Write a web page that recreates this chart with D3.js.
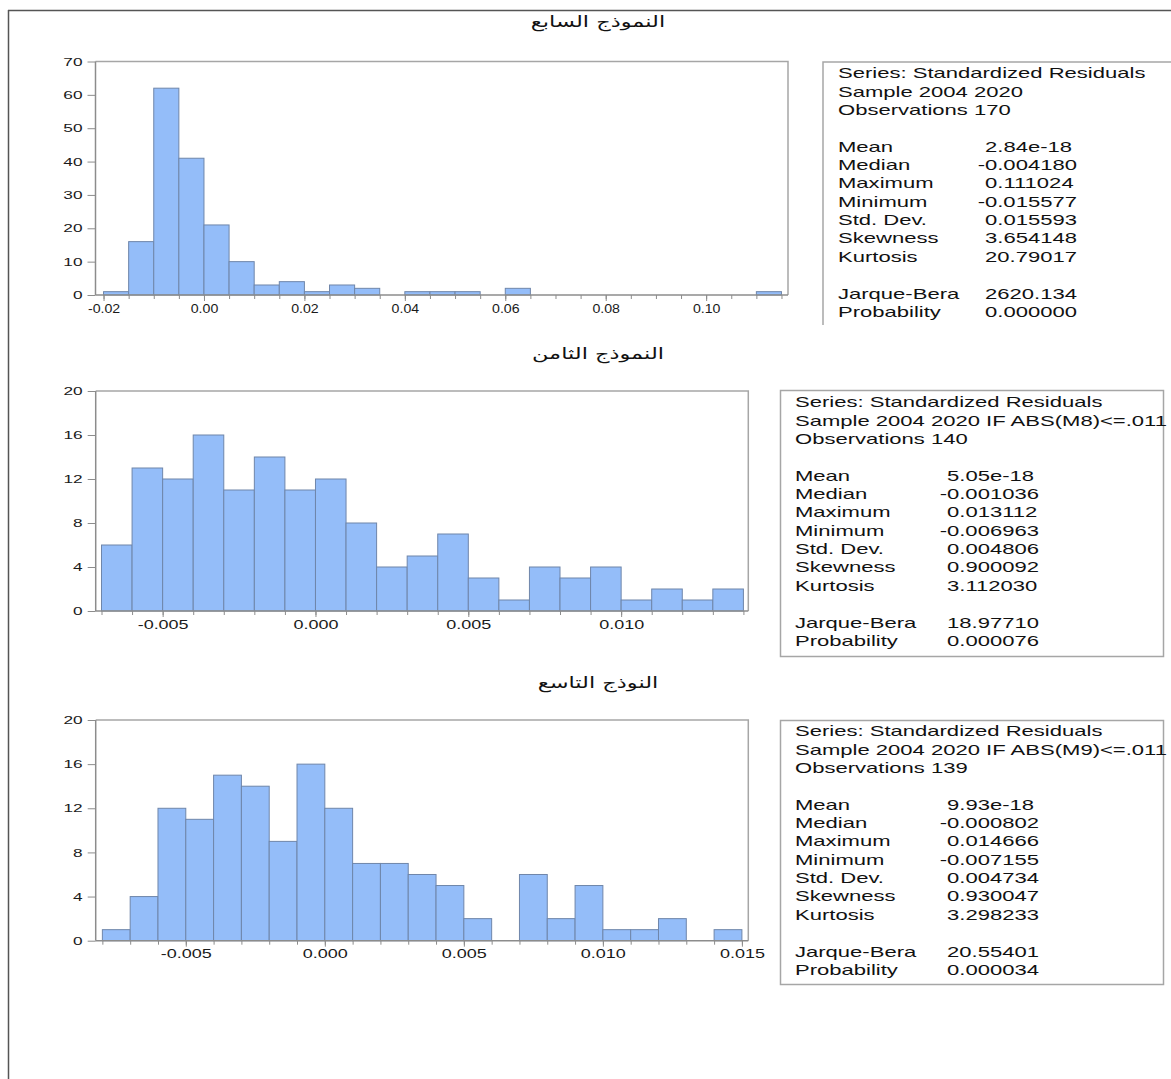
<!DOCTYPE html>
<html><head><meta charset="utf-8">
<script src="https://cdn.jsdelivr.net/npm/d3@7"></script>
<style>
html,body{margin:0;padding:0;background:#fff;}
svg{display:block;}
</style></head><body>
<svg id="chart" width="1171" height="1079"></svg>
<script>
// Model titles
const titles = ["النموذج السابع", "النموذج الثامن", "النوذج التاسع"];

// Residual histograms: first bin edge, bin width, counts per bin
const binStart7 = -0.02, binWidth7 = 0.005;
const counts7 = [1,16,62,41,21,10,3,4,1,3,2,0,1,1,1,0,2,0,0,0,0,0,0,0,0,0,1];
const binStart8 = -0.007, binWidth8 = 0.001;
const counts8 = [6,13,12,16,11,14,11,12,8,4,5,7,3,1,4,3,4,1,2,1,2];
const binStart9 = -0.008, binWidth9 = 0.001;
const counts9 = [1,4,12,11,15,14,9,16,12,7,7,6,5,2,0,6,2,5,1,1,2,0,1];

// Axis ticks
const xTicks7 = [-0.02, 0, 0.02, 0.04, 0.06, 0.08, 0.10];
const yTicks7 = [0, 10, 20, 30, 40, 50, 60, 70];
const xTicks8 = [-0.005, 0, 0.005, 0.010];
const xTicks9 = [-0.005, 0, 0.005, 0.010, 0.015];
const yTicks89 = [0, 4, 8, 12, 16, 20];

// Descriptive statistics
const statNames = ["Mean", "Median", "Maximum", "Minimum", "Std. Dev.", "Skewness", "Kurtosis"];
const testNames = ["Jarque-Bera", "Probability"];
const header7 = ["Series: Standardized Residuals", "Sample 2004 2020", "Observations 170"];
const stats7 = ["2.84e-18", "-0.004180", "0.111024", "-0.015577", "0.015593", "3.654148", "20.79017"];
const tests7 = ["2620.134", "0.000000"];
const header8 = ["Series: Standardized Residuals", "Sample 2004 2020 IF ABS(M8)<=.011", "Observations 140"];
const stats8 = ["5.05e-18", "-0.001036", "0.013112", "-0.006963", "0.004806", "0.900092", "3.112030"];
const tests8 = ["18.97710", "0.000076"];
const header9 = ["Series: Standardized Residuals", "Sample 2004 2020 IF ABS(M9)<=.011", "Observations 139"];
const stats9 = ["9.93e-18", "-0.000802", "0.014666", "-0.007155", "0.004734", "0.930047", "3.298233"];
const tests9 = ["20.55401", "0.000034"];

const panels = [
  { title: titles[0], titleY: 22, start: binStart7, width: binWidth7, counts: counts7,
    xTicks: xTicks7, yTicks: yTicks7, xFmt: ".2f",
    plot: { l: 95.5, r: 788, t: 61.5, b: 295 }, xDom: [-0.0216, 0.1163],
    xLabScale: 1.18, yLabScale: 1.5,
    box: { x: 823, y: 62, w: 360, h: 263, open: true }, textX: 838, valX: 985, line0: 73,
    header: header7, stats: stats7, tests: tests7 },
  { title: titles[1], titleY: 354, start: binStart8, width: binWidth8, counts: counts8,
    xTicks: xTicks8, yTicks: yTicks89, xFmt: ".3f",
    plot: { l: 95.7, r: 748.3, t: 391, b: 611 }, xDom: [-0.00719, 0.01416],
    xLabScale: 1.5, yLabScale: 1.5,
    box: { x: 780.5, y: 390.5, w: 383, h: 266, open: false }, textX: 795, valX: 947, line0: 402,
    header: header8, stats: stats8, tests: tests8 },
  { title: titles[2], titleY: 683, start: binStart9, width: binWidth9, counts: counts9,
    xTicks: xTicks9, yTicks: yTicks89, xFmt: ".3f",
    plot: { l: 95.7, r: 748.3, t: 720, b: 940.7 }, xDom: [-0.00824, 0.01523],
    xLabScale: 1.5, yLabScale: 1.5,
    box: { x: 780.5, y: 720.5, w: 383, h: 264, open: false }, textX: 795, valX: 947, line0: 731,
    header: header9, stats: stats9, tests: tests9 }
];

const svg = d3.select("#chart");
const FONT = "'Liberation Sans', Arial, Helvetica, sans-serif";
const BAR_FILL = "#94bdf9", BAR_STROKE = "#6f86aa";
const AXIS = "#8c8c8c", FRAME = "#a6a6a6";

// Page frame
svg.append("line").attr("x1", 8).attr("x2", 1171).attr("y1", 10.5).attr("y2", 10.5)
  .attr("stroke", "#555").attr("stroke-width", 1.5);
svg.append("line").attr("x1", 8.5).attr("x2", 8.5).attr("y1", 10).attr("y2", 1079)
  .attr("stroke", "#555").attr("stroke-width", 1.5);

const minusFix = s => s.replace("\u2212", "-");

panels.forEach(p => {
  // Title
  svg.append("text")
    .attr("transform", `translate(598,${p.titleY + 5}) scale(1.45,1)`)
    .attr("text-anchor", "middle")
    .attr("font-family", "'DejaVu Sans', 'Noto Sans', sans-serif")
    .attr("font-size", 15.5)
    .attr("fill", "#111")
    .attr("direction", "rtl")
    .text(p.title);

  const x = d3.scaleLinear().domain(p.xDom).range([p.plot.l, p.plot.r]);
  const yMax = p.yTicks[p.yTicks.length - 1];
  const y = d3.scaleLinear().domain([0, yMax]).range([p.plot.b, p.plot.t]);

  // Plot frame (top and right)
  svg.append("path")
    .attr("d", `M${p.plot.l},${p.plot.t}H${p.plot.r}V${p.plot.b}`)
    .attr("fill", "none").attr("stroke", FRAME).attr("stroke-width", 1.5);

  // Bars (empty bins are not drawn)
  const bins = p.counts.map((c, i) => ({ x0: p.start + i * p.width, x1: p.start + (i + 1) * p.width, c }))
    .filter(d => d.c > 0);
  svg.append("g").selectAll("rect").data(bins).join("rect")
    .attr("x", d => x(d.x0))
    .attr("width", d => x(d.x1) - x(d.x0))
    .attr("y", d => y(d.c))
    .attr("height", d => y(0) - y(d.c))
    .attr("fill", BAR_FILL)
    .attr("stroke", BAR_STROKE)
    .attr("stroke-width", 1);

  // Minor x ticks at every bin edge
  const nEdges = Math.floor((p.xDom[1] - p.start) / p.width + 1e-9);
  const edges = d3.range(nEdges + 1).map(i => +(p.start + i * p.width).toFixed(6));
  const gMinor = svg.append("g").attr("transform", `translate(0,${p.plot.b})`)
    .call(d3.axisBottom(x).tickValues(edges).tickSize(4).tickFormat(""));
  gMinor.select(".domain").remove();
  gMinor.selectAll("line").attr("stroke", AXIS);

  // Major x axis
  const gx = svg.append("g").attr("transform", `translate(0,${p.plot.b})`)
    .call(d3.axisBottom(x).tickValues(p.xTicks).tickSize(6).tickPadding(3)
      .tickFormat(d => minusFix(d3.format(p.xFmt)(d))));
  gx.select(".domain").attr("stroke", AXIS).attr("stroke-width", 1.5)
    .attr("d", `M${p.plot.l},0H${p.plot.r}`);
  gx.selectAll("line").attr("stroke", AXIS);
  gx.selectAll("text")
    .attr("font-family", FONT).attr("font-size", 12).attr("fill", "#1a1a1a")
    .attr("x", 0)
    .attr("transform", `scale(${p.xLabScale},1)`);

  // Y axis
  const gy = svg.append("g").attr("transform", `translate(${p.plot.l},0)`)
    .call(d3.axisLeft(y).tickValues(p.yTicks).tickSize(8).tickPadding(5));
  gy.select(".domain").attr("stroke", AXIS).attr("stroke-width", 1.5)
    .attr("d", `M0,${p.plot.t}V${p.plot.b}`);
  gy.selectAll("line").attr("stroke", AXIS);
  gy.selectAll("text").each(function () {
    const t = d3.select(this);
    const tx = +t.attr("x");
    t.attr("x", 0)
      .attr("transform", `translate(${tx},0) scale(${p.yLabScale},1)`)
      .attr("font-family", FONT).attr("font-size", 11.5).attr("fill", "#1a1a1a");
  });

  // Statistics box
  const b = p.box;
  if (b.open) {
    svg.append("path").attr("d", `M${b.x + b.w},${b.y}H${b.x}V${b.y + b.h}`)
      .attr("fill", "none").attr("stroke", FRAME).attr("stroke-width", 1.5);
  } else {
    svg.append("rect").attr("x", b.x).attr("y", b.y).attr("width", b.w).attr("height", b.h)
      .attr("fill", "none").attr("stroke", FRAME).attr("stroke-width", 1.5);
  }

  const LH = 18.35, SX = 1.47, FS = 15;
  const rows = [];
  p.header.forEach((h, i) => rows.push({ row: i, label: h }));
  statNames.forEach((n, i) => rows.push({ row: 4 + i, label: n, val: p.stats[i] }));
  testNames.forEach((n, i) => rows.push({ row: 12 + i, label: n, val: p.tests[i] }));
  const dashW = 0.333 * FS * SX;

  const gs = svg.append("g").attr("font-family", FONT).attr("font-size", FS).attr("fill", "#111");
  rows.forEach(r => {
    const cy = p.line0 + r.row * LH + 5.3;
    gs.append("text").attr("transform", `translate(${p.textX},${cy}) scale(${SX},1)`).text(r.label);
    if (r.val !== undefined) {
      const vx = r.val.startsWith("-") ? p.valX - dashW : p.valX;
      gs.append("text").attr("transform", `translate(${vx},${cy}) scale(${SX},1)`).text(r.val);
    }
  });
});
</script>
</body></html>
